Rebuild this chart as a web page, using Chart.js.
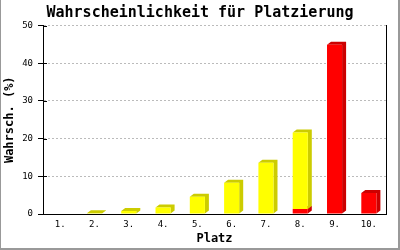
<!DOCTYPE html>
<html>
<head>
<meta charset="utf-8">
<script src="https://cdn.jsdelivr.net/npm/chart.js@4/dist/chart.umd.min.js"></script>
<style>
  body { margin: 0; background: #fff; }
  canvas { display: block; }
</style>
</head>
<body>
<canvas id="chart" width="400" height="250"></canvas>
<script>
// Platzierung chart - stacked 3D-ish bars
const places = ['1.', '2.', '3.', '4.', '5.', '6.', '7.', '8.', '9.', '10.'];
const redValues = [0, 0, 0, 0, 0, 0, 0, 1.3, 44.9, 5.6];
const yellowValues = [0, 0.2, 0.8, 1.7, 4.6, 8.3, 13.6, 20.3, 0, 0];
const yTicks = [0, 10, 20, 30, 40, 50];

const depthColors = ['#cc0000', '#cccc00'];
const DX = 4, DY = -3;

// side and top faces, drawn behind the front faces
const depthPlugin = {
    id: 'depth',
    beforeDatasetsDraw(chart) {
        const ctx = chart.ctx;
        ctx.save();
        chart.data.datasets.forEach((ds, i) => {
            const meta = chart.getDatasetMeta(i);
            meta.data.forEach((bar, j) => {
                if (!ds.data[j]) return;
                const { x, y, base, width } = bar.getProps(['x', 'y', 'base', 'width'], true);
                const left = x - width / 2;
                const right = x + width / 2;
                ctx.fillStyle = depthColors[i];
                ctx.beginPath();
                ctx.moveTo(left, y);
                ctx.lineTo(left + DX, y + DY);
                ctx.lineTo(right + DX, y + DY);
                ctx.lineTo(right + DX, base + DY);
                ctx.lineTo(right, base);
                ctx.lineTo(right, y);
                ctx.closePath();
                ctx.fill();
            });
        });
        ctx.restore();
    }
};

const framePlugin = {
    id: 'frame',
    afterDraw(chart) {
        const ctx = chart.ctx;
        const yScale = chart.scales.y;
        const area = chart.chartArea;
        ctx.save();
        // small inner tick marks
        ctx.strokeStyle = '#000';
        ctx.lineWidth = 1;
        yTicks.forEach(v => {
            const py = Math.round(yScale.getPixelForValue(v)) + 0.5;
            ctx.beginPath();
            ctx.moveTo(area.left, py);
            ctx.lineTo(area.left + 4, py);
            ctx.stroke();
        });
        // grey outer frame
        ctx.fillStyle = '#999';
        ctx.fillRect(0, 0, 1, 250);
        ctx.fillRect(398, 0, 2, 250);
        ctx.fillRect(0, 248, 400, 2);
        ctx.restore();
    }
};

Chart.defaults.font.family = '"DejaVu Sans Mono", monospace';
Chart.defaults.color = '#000';

new Chart(document.getElementById('chart'), {
    type: 'bar',
    data: {
        labels: places,
        datasets: [
            { data: redValues, backgroundColor: '#ff0000', borderWidth: 0 },
            { data: yellowValues, backgroundColor: '#ffff00', borderWidth: 0 }
        ]
    },
    options: {
        responsive: false,
        animation: false,
        devicePixelRatio: 1,
        categoryPercentage: 1,
        barPercentage: 0.44,
        layout: { padding: 0 },
        plugins: {
            legend: { display: false },
            tooltip: { enabled: false },
            title: {
                display: true,
                text: 'Wahrscheinlichkeit für Platzierung',
                color: '#000',
                font: { size: 15, weight: 'bold' },
                padding: { top: 4, bottom: 3.5 }
            }
        },
        scales: {
            x: {
                stacked: true,
                grid: { display: false, drawTicks: false },
                border: { display: true, color: '#000', width: 1 },
                ticks: { font: { size: 9 }, padding: 5, color: '#000' },
                title: {
                    display: true,
                    text: 'Platz',
                    color: '#000',
                    font: { size: 12, weight: 'bold' },
                    padding: { top: 0, bottom: 4 }
                },
                afterFit(scale) { scale.height = 36; }
            },
            y: {
                stacked: true,
                min: 0,
                max: 50,
                afterBuildTicks(scale) { scale.ticks = yTicks.map(v => ({ value: v })); },
                ticks: { font: { size: 9 }, padding: 5, color: '#000' },
                grid: { color: '#bbb', tickColor: '#000', tickLength: 5, lineWidth: 1 },
                border: { display: true, color: '#000', width: 1, dash: [2, 2] },
                title: {
                    display: true,
                    text: 'Wahrsch. (%)',
                    color: '#000',
                    font: { size: 12, weight: 'bold' },
                    padding: { top: 3, bottom: 0 }
                },
                afterFit(scale) { scale.width = 43; }
            },
            y2: {
                position: 'right',
                min: 0,
                max: 50,
                grid: { display: false, drawTicks: false },
                ticks: { display: false },
                border: { display: true, color: '#000', width: 1 },
                afterFit(scale) { scale.width = 14; }
            }
        }
    },
    plugins: [depthPlugin, framePlugin]
});
</script>
</body>
</html>
